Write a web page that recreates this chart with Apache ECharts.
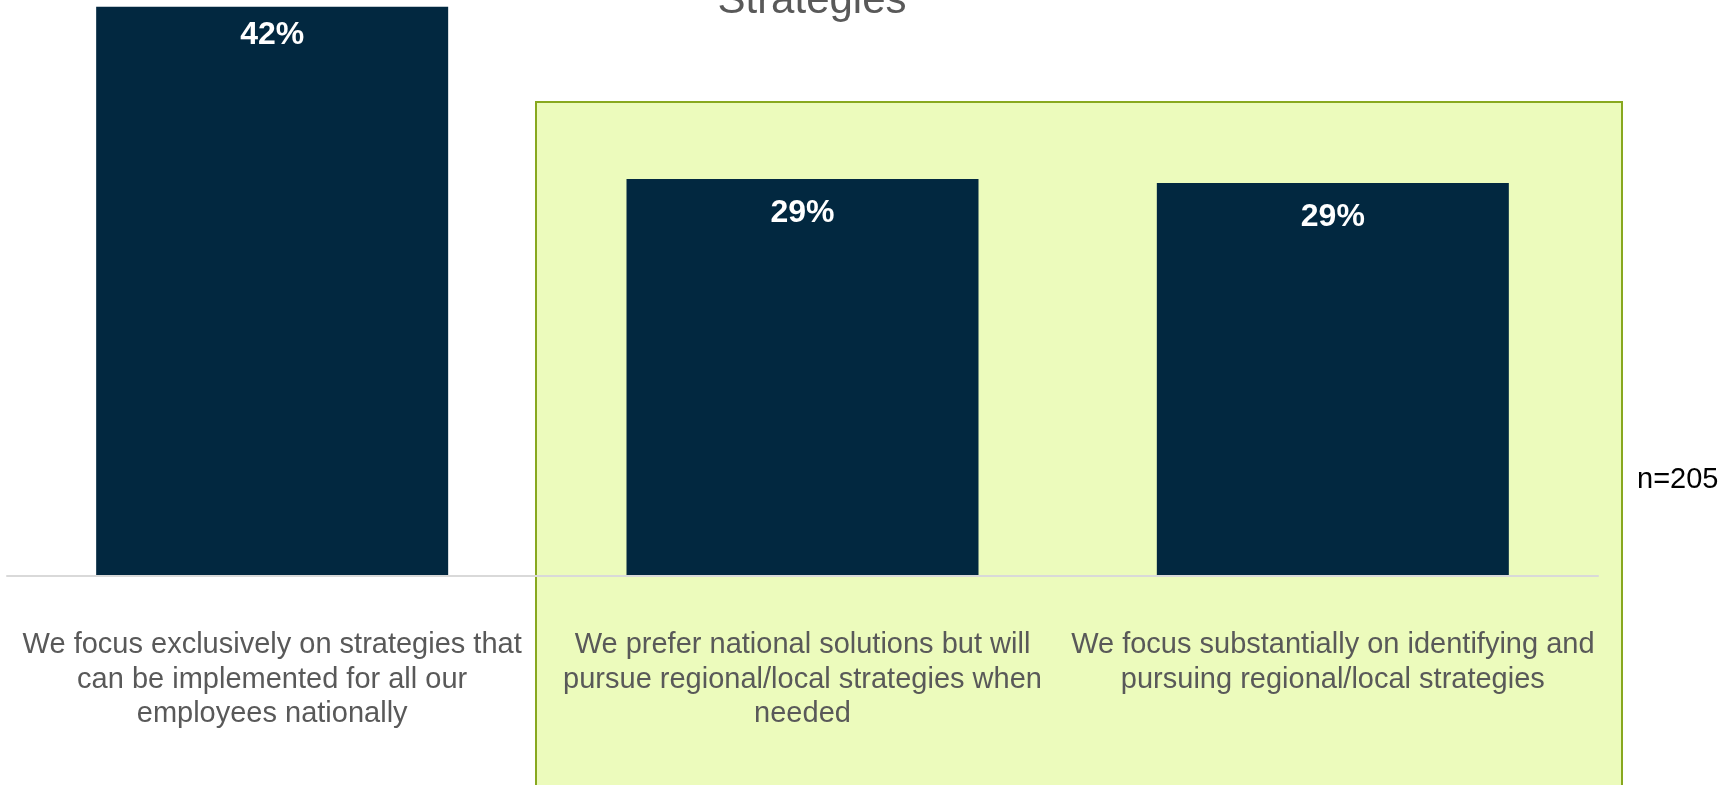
<!DOCTYPE html>
<html>
<head>
<meta charset="utf-8">
<script src="https://cdn.jsdelivr.net/npm/echarts@6/dist/echarts.min.js"></script>
<style>
html,body{margin:0;padding:0;background:#fff;}
#chart{width:1733px;height:785px;}
</style>
</head>
<body>
<div id="chart"></div>
<script>
var categories = [
  "We focus exclusively on strategies that\ncan be implemented for all our\nemployees nationally",
  "We prefer national solutions but will\npursue regional/local strategies when\nneeded",
  "We focus substantially on identifying and\npursuing regional/local strategies"
];
var values = [42, 29.3, 29.0];
var titleText = "Strategies";
var noteText = "n=205";

var chart = echarts.init(document.getElementById('chart'), null, {renderer: 'canvas'});
var FONT = '"Liberation Sans", Arial, Helvetica, sans-serif';
var labelDistance = function (i) { return i === 0 ? 12 : 18; };
var option = {
  backgroundColor: '#ffffff',
  animation: false,
  grid: {left: 7, right: 135, top: 0, bottom: 209, containLabel: false},
  xAxis: {
    type: 'category',
    data: categories,
    axisLine: {show: true, lineStyle: {color: '#d9d9d9', width: 2}},
    axisTick: {show: false},
    axisLabel: {
      interval: 0,
      margin: 52,
      color: '#595959',
      fontFamily: FONT,
      fontSize: 29,
      lineHeight: 34.5,
      align: 'center',
      verticalAlign: 'top'
    },
    z: 5
  },
  yAxis: {
    type: 'value',
    min: 0,
    max: 42.5,
    show: false,
    splitLine: {show: false}
  },
  series: [{
    type: 'bar',
    data: values.map(function (v, i) {
      return {value: v, label: {distance: labelDistance(i)}};
    }),
    barWidth: 352,
    itemStyle: {color: '#022840'},
    label: {
      show: true,
      position: 'insideTop',
      color: '#ffffff',
      fontFamily: FONT,
      fontWeight: 'bold',
      fontSize: 32,
      formatter: function (p) { return Math.round(p.value) + '%'; }
    },
    z: 3
  }],
  graphic: [
    {
      type: 'rect',
      z: -10,
      silent: true,
      shape: {x: 536, y: 102, width: 1086, height: 720},
      style: {fill: '#ecfbbc', stroke: '#88a81f', lineWidth: 2}
    },
    {
      type: 'text',
      z: 10,
      silent: true,
      style: {
        x: 812, y: 1,
        text: titleText,
        fill: '#595959',
        font: '42px ' + FONT,
        textAlign: 'center',
        textVerticalAlign: 'middle'
      }
    },
    {
      type: 'text',
      z: 10,
      silent: true,
      style: {
        x: 1637, y: 480,
        text: noteText,
        fill: '#000000',
        font: '29px ' + FONT,
        textAlign: 'left',
        textVerticalAlign: 'middle'
      }
    }
  ]
};
chart.setOption(option);
</script>
</body>
</html>
